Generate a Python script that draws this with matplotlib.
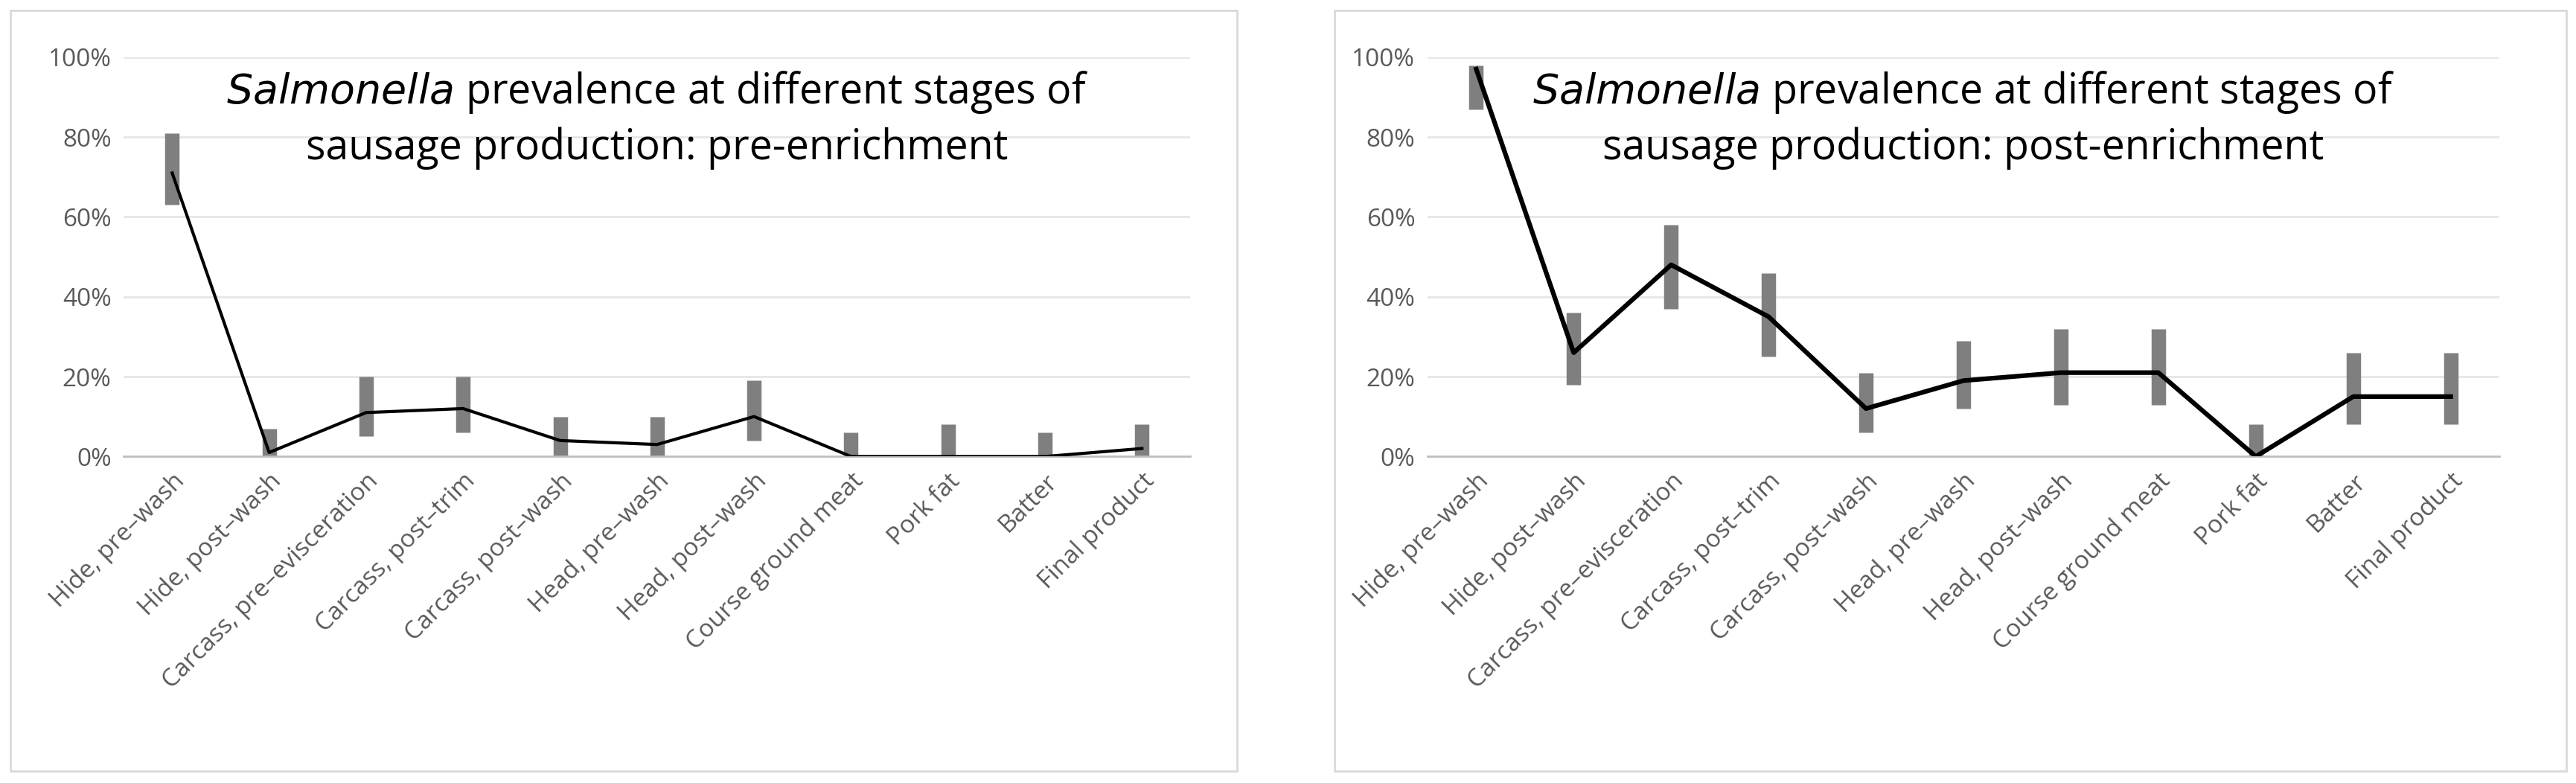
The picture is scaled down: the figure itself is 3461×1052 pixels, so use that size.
import matplotlib
matplotlib.use("Agg")
import matplotlib.pyplot as plt
from matplotlib.patches import Rectangle
from matplotlib.ticker import PercentFormatter

plt.rcParams['font.family'] = ['Open Sans', 'DejaVu Sans']

stages = ["Hide, pre\u2013wash", "Hide, post\u2013wash", "Carcass, pre\u2013evisceration",
          "Carcass, post\u2013trim", "Carcass, post\u2013wash", "Head, pre\u2013wash",
          "Head, post\u2013wash", "Course ground meat", "Pork fat", "Batter", "Final product"]

# pre-enrichment prevalence (%) and confidence limits
pre = [71, 1, 11, 12, 4, 3, 10, 0, 0, 0, 2]
pre_lo = [63, 0, 5, 6, 0, 0, 4, 0, 0, 0, 0]
pre_hi = [81, 7, 20, 20, 10, 10, 19, 6, 8, 6, 8]

# post-enrichment prevalence (%) and confidence limits
post = [97, 26, 48, 35, 12, 19, 21, 21, 0, 15, 15]
post_lo = [87, 18, 37, 25, 6, 12, 13, 13, 0, 8, 8]
post_hi = [98, 36, 58, 46, 21, 29, 32, 32, 8, 26, 26]

fig = plt.figure(figsize=(34.62, 10.52), dpi=100)

def panel(rect, box, vals, lo, hi, title, lw):
    fig.patches.append(Rectangle((box[0], box[1]), box[2], box[3], transform=fig.transFigure,
                                 fill=False, edgecolor='#d9d9d9', lw=2))
    ax = fig.add_axes(rect)
    x = list(range(len(vals)))
    ax.vlines(x, lo, hi, color='#7f7f7f', lw=14, zorder=2)
    ax.plot(x, vals, color='black', lw=lw, zorder=3)
    ax.set_ylim(0, 100)
    ax.set_xlim(-0.5, len(vals) - 0.5)
    ax.set_yticks([0, 20, 40, 60, 80, 100])
    ax.yaxis.set_major_formatter(PercentFormatter(decimals=0))
    ax.grid(axis='y', color='#e6e6e6', lw=2)
    ax.set_axisbelow(True)
    for s in ['top', 'right', 'left']:
        ax.spines[s].set_visible(False)
    ax.spines['bottom'].set_color('#bfbfbf')
    ax.spines['bottom'].set_linewidth(2)
    ax.tick_params(length=0, labelsize=24, labelcolor='#595959', pad=12)
    ax.set_xticks(x)
    ax.set_xticklabels(stages, rotation=45, ha='right', rotation_mode='anchor')
    ax.text(0.5, 0.97, title, transform=ax.transAxes, ha='center', va='top',
            fontsize=40, linespacing=1.35)
    return ax

panel([0.048, 0.417, 0.414, 0.51], [0.004, 0.015, 0.476, 0.972], pre, pre_lo, pre_hi,
      "$\\it{Salmonella}$ prevalence at different stages of\nsausage production: pre-enrichment", 3)
panel([0.554, 0.417, 0.416, 0.51], [0.518, 0.015, 0.478, 0.972], post, post_lo, post_hi,
      "$\\it{Salmonella}$ prevalence at different stages of\nsausage production: post-enrichment", 4.5)

fig.savefig("out.png", dpi=100)
